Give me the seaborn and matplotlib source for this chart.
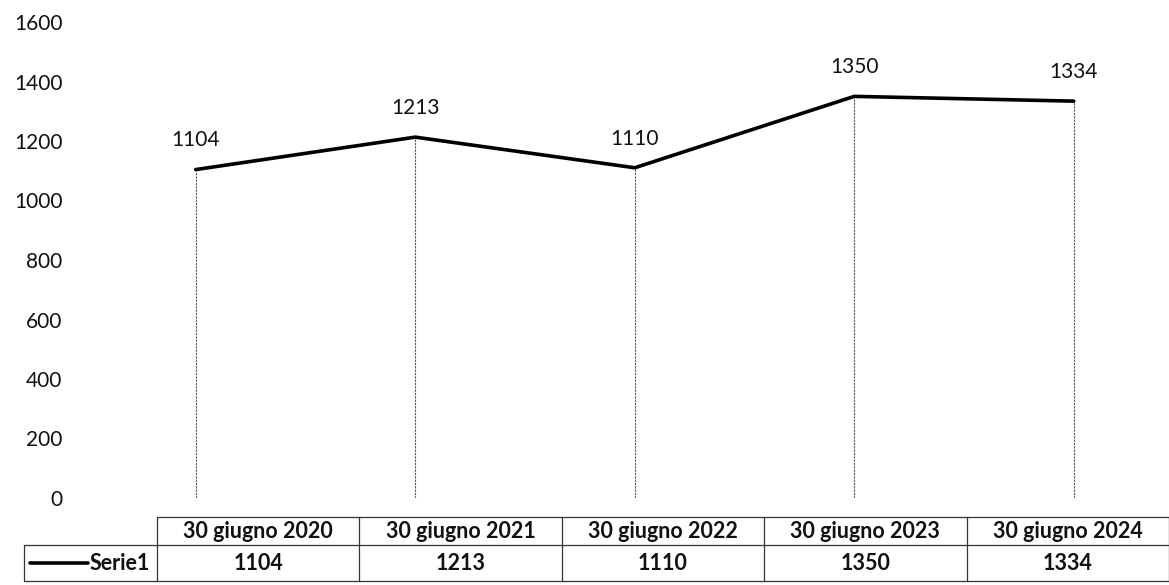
import numpy as np
import pandas as pd
import matplotlib
matplotlib.use("Agg")
import matplotlib.pyplot as plt
from matplotlib.lines import Line2D
import seaborn as sns

categories = ["30 giugno 2020", "30 giugno 2021", "30 giugno 2022", "30 giugno 2023", "30 giugno 2024"]
values = [1104, 1213, 1110, 1350, 1334]
series_name = "Serie1"
y_ticks = [0, 200, 400, 600, 800, 1000, 1200, 1400, 1600]

sns.set_theme(style="white")
plt.rcParams["font.family"] = ["Lato", "DejaVu Sans"]

W, H = 1169, 585
fig = plt.figure(figsize=(W / 100, H / 100), dpi=100)

# pixel-coordinate overlay for table
axp = fig.add_axes([0, 0, 1, 1], zorder=0)
axp.set_xlim(0, W)
axp.set_ylim(H, 0)
axp.axis("off")

left_px, top_px, bottom_px = 86, 22, 498
ax = fig.add_axes([left_px / W, 1 - bottom_px / H, (W - left_px) / W, (bottom_px - top_px) / H], zorder=1)
ax.patch.set_alpha(0)

df = pd.DataFrame({"idx": np.arange(len(categories)), "value": values})
sns.lineplot(data=df, x="idx", y="value", ax=ax, color="black", linewidth=2.6, zorder=3)
ax.vlines(df["idx"], 0, df["value"], colors="#555555", linewidth=0.8, linestyles=(0, (2, 1)), zorder=2)
for i, v in zip(df["idx"], df["value"]):
    ax.annotate(f"{v}", (i, v), xytext=(0, 21), textcoords="offset points",
                ha="center", va="center", fontsize=15, color="#111111")

ax.set_xlim(-0.5, (W - left_px) / 219.5 - 0.5)
ax.set_ylim(0, 1600)
ax.set_yticks(y_ticks)
ax.set_yticklabels([str(t) for t in y_ticks], fontsize=15, color="#111111")
ax.tick_params(axis="y", length=0, pad=17)
ax.set_xticks([])
ax.set_xlabel("")
ax.set_ylabel("")
for s in ax.spines.values():
    s.set_visible(False)

# data table
tab_left, tab_right = 157, 1169
row_top, row_mid, row_bot = 517, 545, 581
leg_left = 24
n = len(categories)
col_w = (tab_right - tab_left) / n
lc = "#333333"
lw = 0.9
fs_tab = 15.5
axp.plot([tab_left, tab_right], [row_top, row_top], color=lc, lw=lw)
axp.plot([leg_left, tab_right], [row_mid, row_mid], color=lc, lw=lw)
axp.plot([leg_left, tab_right], [row_bot, row_bot], color=lc, lw=lw)
axp.plot([leg_left, leg_left], [row_mid, row_bot], color=lc, lw=lw)
for k in range(n + 1):
    x = tab_left + k * col_w
    axp.plot([x, x], [row_top, row_bot], color=lc, lw=lw)
for k, (c, v) in enumerate(zip(categories, values)):
    xc = tab_left + (k + 0.5) * col_w
    axp.text(xc, (row_top + row_mid) / 2, c, ha="center", va="center", fontsize=fs_tab, fontweight="bold", color="#111111")
    axp.text(xc, (row_mid + row_bot) / 2 + 1, str(v), ha="center", va="center", fontsize=fs_tab, fontweight="bold", color="#111111")
ymid = (row_mid + row_bot) / 2
axp.add_line(Line2D([30, 88], [ymid, ymid], color="black", lw=2.6))
axp.text(150, ymid, series_name, ha="right", va="center", fontsize=fs_tab, fontweight="bold", color="#111111")

fig.savefig("out.png", dpi=100)
